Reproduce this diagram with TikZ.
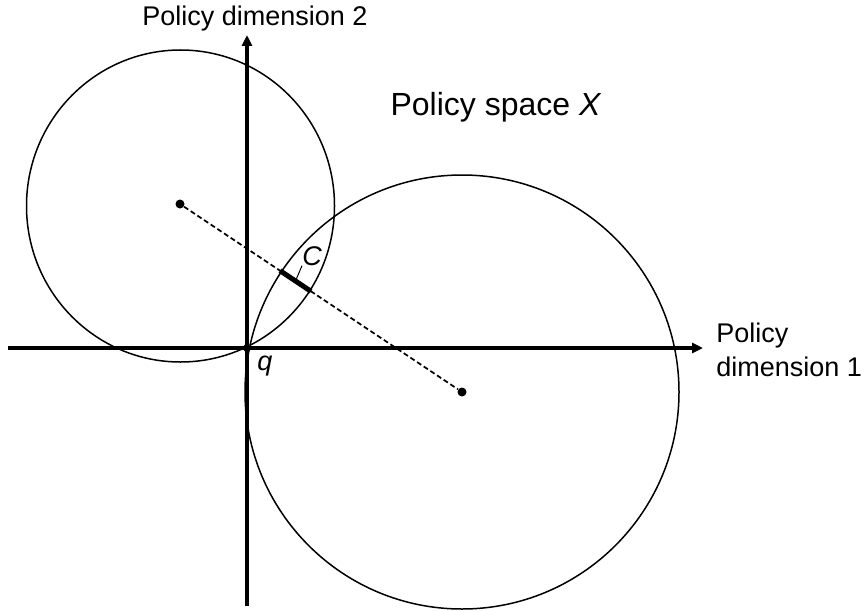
\documentclass[tikz,border=0pt]{standalone}
\usepackage{fontspec}
\setmainfont{Liberation Sans}
\usetikzlibrary{arrows.meta,calc,positioning}

\begin{document}
\begin{tikzpicture}[x=0.5pt,y=-0.5pt,
  axis/.style={line width=1.7pt,-{Triangle[length=5.5pt,width=5pt]}},
  ideal/.style={circle,fill,inner sep=0pt,minimum size=4.5pt},
  pref/.style={line width=0.75pt},
  lbl/.style={font=\fontsize{13.5}{17}\selectfont,inner sep=0pt}
]
\useasboundingbox (0,0) rectangle (865,610);

% ideal points and status quo
\node[ideal] (A) at (180,204) {};
\node[ideal] (B) at (462,392) {};
\node[ideal,minimum size=4pt] (q) at (247,348) {};

% preferred-to sets
\draw[pref] (180.5,206) ellipse [x radius=154, y radius=156];
\draw[pref] (462,392) circle [radius=217];

% axes
\coordinate (xl) at (8,348);
\coordinate (xr) at (703,348);
\coordinate (yb) at (247,606);
\coordinate (yt) at (247,35);
\draw[axis] (xl) -- (xr);
\draw[axis] (yb) -- (yt);

% contract curve
\draw[line width=0.9pt,dash pattern=on 2.5pt off 1.5pt] (A) -- (B);
\coordinate (c1) at ($(A)!0.3546!(B)$);
\coordinate (c2) at ($(A)!0.4645!(B)$);
\draw[line width=2.5pt] (c1) -- (c2);

% labels
\node[lbl,anchor=base] (ylab) at (255,26) {Policy dimension 2};
\node[lbl,anchor=west,align=left] (xlab) at (716,350) {Policy\\dimension 1};
\node[inner sep=0pt,anchor=base,font=\fontsize{16}{19}\selectfont] (X) at (496,115) {Policy space \textit{X}};
\node[lbl,anchor=base west] (qlab) at (257,370) {\textit{q}};
\node[lbl,anchor=base west] (Clab) at (302,265) {\textit{C}};
\draw[line width=0.5pt] ($(c1)!0.5!(c2)$) -- (Clab.south west);
\end{tikzpicture}
\end{document}
